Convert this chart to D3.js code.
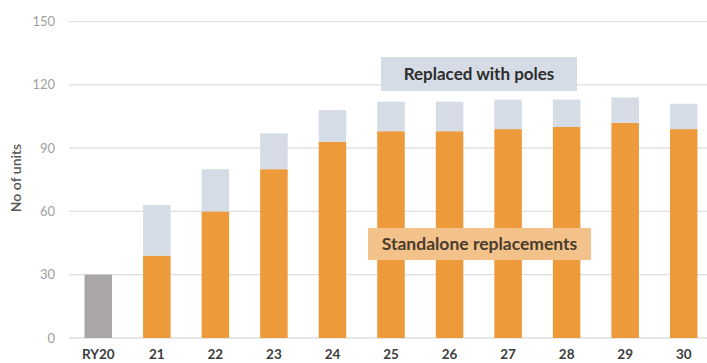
<!DOCTYPE html>
<html>
<head>
<meta charset="utf-8">
<script src="https://cdn.jsdelivr.net/npm/d3@7"></script>
<style>
  html, body { margin: 0; padding: 0; background: #fff; }
  svg { display: block; font-family: Lato, "Open Sans", sans-serif; }
</style>
</head>
<body>
<svg id="chart" width="707" height="363"></svg>
<script>
// Replacement units per regulatory year
const categories = ["RY20", "21", "22", "23", "24", "25", "26", "27", "28", "29", "30"];
const existingUnits = [30, 0, 0, 0, 0, 0, 0, 0, 0, 0, 0];
const standaloneReplacements = [0, 39, 60, 80, 93, 98, 98, 99, 100, 102, 99];
const replacedWithPoles = [0, 24, 20, 17, 15, 14, 14, 14, 13, 12, 12];
const yTicks = [0, 30, 60, 90, 120, 150];

const svg = d3.select("#chart");

const x = d3.scaleBand()
  .domain(categories)
  .range([69, 713])
  .paddingInner(0.53)
  .paddingOuter(0.265);

const y = d3.scaleLinear().domain([0, 150]).range([338, 21.5]);

// gridlines
svg.append("g")
  .selectAll("line")
  .data(yTicks)
  .join("line")
  .attr("x1", 69).attr("x2", 707)
  .attr("y1", d => y(d)).attr("y2", d => y(d))
  .attr("stroke", d => d === 0 ? "#cfcfcf" : "#dedede")
  .attr("stroke-width", 1.2);

// y tick labels
const yAxis = svg.append("g")
  .attr("transform", "translate(69,0)")
  .call(d3.axisLeft(y).tickValues(yTicks).tickSize(0).tickPadding(14));
yAxis.select(".domain").remove();
yAxis.selectAll("text")
  .attr("font-size", 13)
  .attr("fill", "#a0a0a0")
  .attr("font-family", "Lato, sans-serif");

// y axis title
svg.append("text")
  .attr("transform", "translate(21,178) rotate(-90)")
  .attr("text-anchor", "middle")
  .attr("font-size", 14)
  .attr("font-weight", 600)
  .attr("fill", "#555")
  .text("No of units");

// stacked bars
const rows = categories.map((c, i) => ({
  cat: c,
  existing: existingUnits[i],
  standalone: standaloneReplacements[i],
  poles: replacedWithPoles[i]
}));
const keys = ["existing", "standalone", "poles"];
const colors = { existing: "#aaa6a6", standalone: "#ec9a3a", poles: "#d5dce5" };
const stacked = d3.stack().keys(keys)(rows);

svg.append("g")
  .selectAll("g")
  .data(stacked)
  .join("g")
  .attr("fill", s => colors[s.key])
  .selectAll("rect")
  .data(s => s.filter(d => d[1] > d[0]))
  .join("rect")
  .attr("x", d => x(d.data.cat))
  .attr("width", x.bandwidth())
  .attr("y", d => y(d[1]))
  .attr("height", d => y(d[0]) - y(d[1]));

// x labels
const xAxis = svg.append("g")
  .attr("transform", "translate(0,338)")
  .call(d3.axisBottom(x).tickSize(0).tickPadding(11));
xAxis.select(".domain").remove();
xAxis.selectAll("text")
  .attr("font-size", 13.5)
  .attr("font-weight", 700)
  .attr("fill", "#3c3c3c")
  .attr("font-family", "Lato, sans-serif");

// series labels
const labels = [
  { text: "Replaced with poles", x0: 381, x1: 577, y0: 57, y1: 91, fill: "#d5dce5", color: "#2e2e2e", size: 17 },
  { text: "Standalone replacements", x0: 368, x1: 591, y0: 228, y1: 260, fill: "#f2c28a", color: "#4a3c2c", size: 17.5 }
];
const lg = svg.append("g").selectAll("g").data(labels).join("g");
lg.append("rect")
  .attr("x", d => d.x0).attr("y", d => d.y0)
  .attr("width", d => d.x1 - d.x0).attr("height", d => d.y1 - d.y0)
  .attr("fill", d => d.fill);
lg.append("text")
  .attr("x", d => (d.x0 + d.x1) / 2)
  .attr("y", d => (d.y0 + d.y1) / 2)
  .attr("dy", "0.35em")
  .attr("text-anchor", "middle")
  .attr("font-size", d => d.size)
  .attr("font-weight", 700)
  .attr("fill", d => d.color)
  .text(d => d.text);
</script>
</body>
</html>
